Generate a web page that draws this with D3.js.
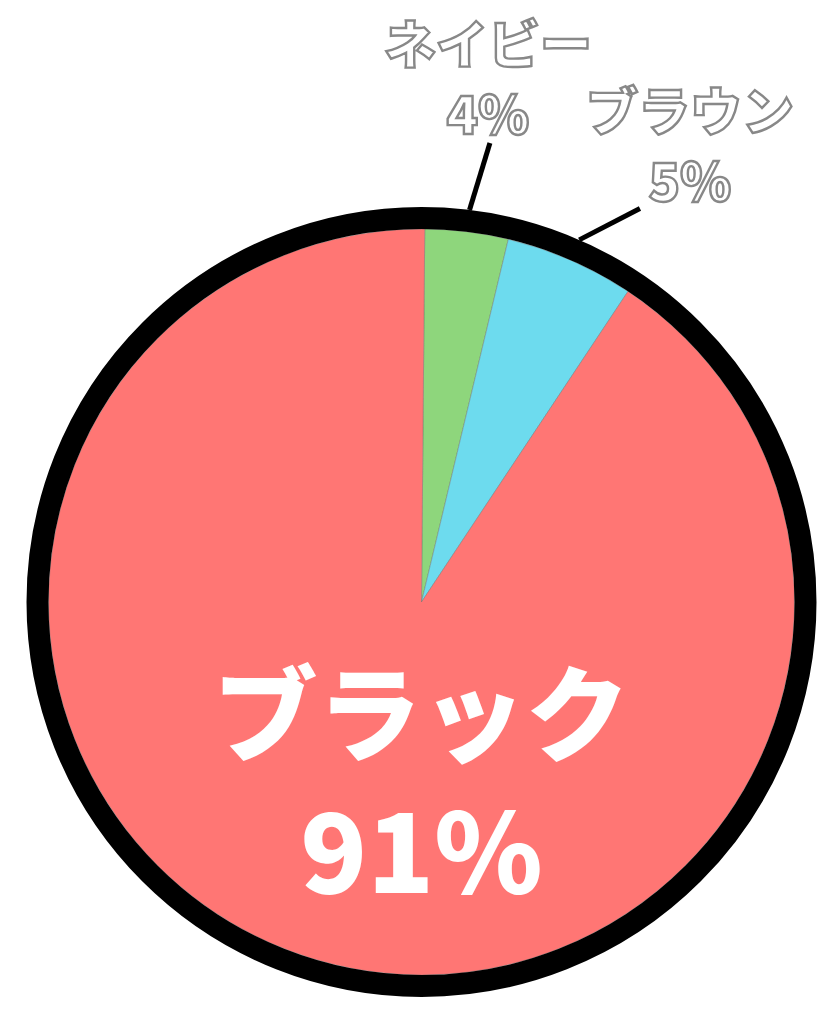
<!DOCTYPE html>
<html>
<head>
<meta charset="utf-8">
<script src="https://cdn.jsdelivr.net/npm/d3@7"></script>
<style>
  html, body { margin: 0; padding: 0; background: #fff; }
  svg { display: block; }
</style>
</head>
<body>
<svg id="chart" width="840" height="1024"></svg>
<script>
// data, clockwise from 12 o'clock
const categories = ["ネイビー", "ブラウン", "ブラック"];
const values     = [3.6, 5.6, 90.8];
const pctLabels  = ["4%", "5%", "91%"];
const colors     = ["#8ED67C", "#6DDBEE", "#FF7674"];

const cx = 421.5, cy = 602;
const R = 373;          // coloured area
const ringW = 22;       // black rim
const font = "'Noto Sans CJK JP', 'Noto Sans', sans-serif";
const deg = Math.PI / 180;

const svg = d3.select("#chart");
const g   = svg.append("g").attr("transform", `translate(${cx},${cy})`);

const rows = categories.map((c, i) => ({ cat: c, value: values[i], pct: pctLabels[i], color: colors[i] }));

const pie = d3.pie().value(d => d.value).sort(null)
  .startAngle(0.5 * deg).endAngle(360.5 * deg);
const arc = d3.arc().innerRadius(0).outerRadius(R);
const arcs = pie(rows);

g.selectAll("path.slice")
  .data(arcs)
  .enter()
  .append("path")
  .attr("class", "slice")
  .attr("d", arc)
  .attr("fill", d => d.data.color)
  .attr("stroke", "rgba(110,110,110,0.5)")
  .attr("stroke-width", 0.8);

// black rim
g.append("circle")
  .attr("r", R + ringW / 2)
  .attr("fill", "none")
  .attr("stroke", "#000")
  .attr("stroke-width", ringW);

// small slices: leader line + outlined label outside
const outside = [
  { kick: 1.5 * deg, r: 464, dx: -2, dy: -32 },
  { kick: 5.5 * deg, r: 450, dx: 50, dy: -30 }
];

arcs.slice(0, 2).forEach((d, i) => {
  const mid = (d.startAngle + d.endAngle) / 2;
  const o = outside[i];
  const p0 = d3.pointRadial(mid, R + ringW);
  const p1 = d3.pointRadial(mid + o.kick, o.r);

  g.append("line")
    .attr("x1", p0[0]).attr("y1", p0[1])
    .attr("x2", p1[0]).attr("y2", p1[1])
    .attr("stroke", "#000")
    .attr("stroke-width", 5);

  const lx = p1[0] + o.dx, ly = p1[1] + o.dy;
  [[d.data.cat, -70], [d.data.pct, 0]].forEach(([txt, off]) => {
    g.append("text")
      .attr("x", lx)
      .attr("y", ly + off)
      .attr("text-anchor", "middle")
      .attr("dominant-baseline", "central")
      .attr("font-family", font)
      .attr("font-weight", 900)
      .attr("font-size", 52)
      .attr("fill", "#fff")
      .attr("stroke", "#888")
      .attr("stroke-width", 2.4)
      .text(txt);
  });
});

// big slice label, inside
const big = arcs[2];
[[big.data.cat, 106, 104], [big.data.pct, 243, 110]].forEach(([txt, off, size]) => {
  g.append("text")
    .attr("x", 0)
    .attr("y", off)
    .attr("text-anchor", "middle")
    .attr("dominant-baseline", "central")
    .attr("font-family", font)
    .attr("font-weight", 900)
    .attr("font-size", size)
    .attr("fill", "#fff")
    .text(txt);
});
</script>
</body>
</html>
